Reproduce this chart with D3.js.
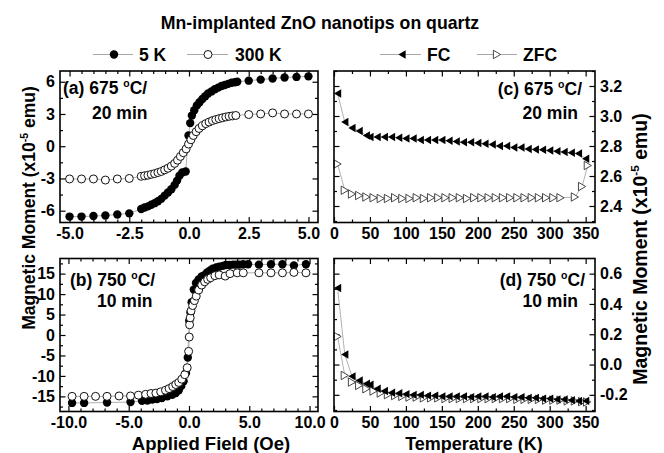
<!DOCTYPE html>
<html>
<head>
<meta charset="utf-8">
<script src="https://cdn.jsdelivr.net/npm/d3@7"></script>
<style>
  body { margin: 0; background: #fff; }
  svg { display: block; }
</style>
</head>
<body>
<script>
// (a) 675 C / 20 min : M(H) loops
var hA5 = [-5, -4.5, -4, -3.5, -3, -2.5,
  -2.0, -1.86, -1.72, -1.58, -1.44, -1.3, -1.16, -1.02, -0.88, -0.74, -0.6, -0.5, -0.4, -0.28, -0.14,
  -0.02, 0.05, 0.12, 0.22, 0.33, 0.44, 0.56, 0.68, 0.8, 0.94, 1.08, 1.22, 1.36, 1.5, 1.64, 1.78, 1.92, 2.02,
  2.5, 3.0, 3.5, 4.0, 4.5, 5.0];
var mA5 = [-6.55, -6.55, -6.5, -6.45, -6.35, -6.25,
  -5.85, -5.7, -5.6, -5.45, -5.3, -5.12, -4.9, -4.6, -4.3, -4.0, -3.6, -3.2, -2.75, -2.45, -2.35,
  1.0, 2.15, 2.85, 3.35, 3.8, 4.1, 4.4, 4.65, 4.9, 5.1, 5.3, 5.45, 5.6, 5.7, 5.8, 5.9, 5.95, 6.0,
  6.1, 6.2, 6.3, 6.4, 6.45, 6.5];
var hA300 = [-5, -4.5, -4, -3.5, -3, -2.5,
  -2.0, -1.86, -1.72, -1.58, -1.44, -1.3, -1.16, -1.02, -0.88, -0.74, -0.6, -0.48, -0.36, -0.24, -0.12,
  -0.02, 0.08, 0.18, 0.3, 0.42, 0.56, 0.7, 0.84, 0.98, 1.12, 1.26, 1.4, 1.54, 1.68, 1.82, 1.96,
  2.5, 3.0, 3.5, 4.0, 4.5, 5.0];
var mA300 = [-3.05, -3.05, -3.05, -3.15, -3.05, -3.0,
  -2.8, -2.75, -2.7, -2.62, -2.55, -2.45, -2.35, -2.2, -2.05, -1.85, -1.6, -1.3, -0.95, -0.6, -0.25,
  0.2, 0.6, 1.0, 1.35, 1.65, 1.9, 2.1, 2.25, 2.38, 2.48, 2.57, 2.65, 2.72, 2.78, 2.82, 2.86,
  2.95, 3.0, 3.1, 3.0, 3.0, 3.0];

// (b) 750 C / 10 min
var hB5 = [-9.7, -8.7, -6.8, -4.85,
  -3.9, -3.45, -3.05, -2.65, -2.25, -1.8, -1.4, -1.1, -0.85, -0.65, -0.45, -0.25, -0.1,
  0.02, 0.12, 0.22, 0.4, 0.58, 0.8, 1.05, 1.27, 1.5, 1.75, 1.96, 2.25, 2.5, 2.8, 3.05, 3.35, 3.65, 3.9, 4.2, 4.5, 4.9,
  5.8, 6.8, 7.75, 8.7, 9.7];
var mB5 = [-16.6, -16.6, -16.5, -16.4,
  -16.1, -16.0, -15.8, -15.65, -15.4, -15.0, -14.6, -14.2, -13.5, -12.5, -11.3, -9.3, -5.5,
  3.5, 5.5, 8.0, 11.1, 12.7, 13.6, 14.3, 14.6, 15.3, 15.8, 16.2, 16.5, 16.7, 16.9, 17.1, 17.1, 17.2, 17.2, 17.2, 17.3, 17.3,
  17.2, 17.3, 17.3, 17.0, 17.3];
var hB300 = [-9.7, -8.7, -7.75, -6.8, -5.8, -4.85,
  -4.2, -3.6, -3.15, -2.75, -2.35, -1.95, -1.65, -1.35, -1.1, -0.85, -0.6, -0.35, -0.15, -0.03,
  0.02, 0.05, 0.1, 0.17, 0.3, 0.45, 0.6, 0.8, 1.05, 1.3, 1.55, 1.8, 2.15, 2.5, 3.0, 3.4, 4.0, 4.5,
  5.8, 6.8, 7.75, 8.7, 9.7];
var mB300 = [-15.0, -15.0, -15.0, -15.0, -14.9, -14.9,
  -14.7, -14.5, -14.3, -14.2, -13.9, -13.5, -13.1, -12.6, -12.1, -11.6, -10.8, -9.7, -8.0, -4.0,
  -0.5, 2.5, 4.2, 5.9, 7.2, 8.4, 9.5, 11.0, 12.2, 13.0, 13.6, 14.0, 14.5, 14.7, 14.4, 15.0, 15.2, 15.2,
  15.2, 15.2, 15.2, 15.3, 15.2];

// (c),(d) FC / ZFC vs temperature
var tFC = [5, 15, 25, 35, 45, 50, 60, 70, 80, 90, 100, 110, 120, 130, 140, 150, 160, 170, 180, 190,
  200, 210, 220, 230, 240, 250, 260, 270, 280, 290, 300, 310, 320, 330, 340, 350];
var mFCc = [3.15, 2.96, 2.92, 2.90, 2.87, 2.86, 2.86, 2.86, 2.86, 2.855, 2.85, 2.85, 2.84, 2.84, 2.84, 2.84, 2.835, 2.83, 2.825, 2.825,
  2.82, 2.815, 2.81, 2.80, 2.80, 2.79, 2.79, 2.78, 2.777, 2.775, 2.77, 2.765, 2.76, 2.755, 2.75, 2.715];
var mFCd = [0.505, 0.066, -0.078, -0.105, -0.127, -0.133, -0.16, -0.175, -0.186, -0.19, -0.195, -0.2, -0.2, -0.205, -0.205, -0.21, -0.21, -0.21, -0.21, -0.215,
  -0.21, -0.21, -0.215, -0.21, -0.21, -0.215, -0.215, -0.22, -0.22, -0.225, -0.225, -0.23, -0.23, -0.235, -0.24, -0.24];
var tZFCc = [5, 15, 25, 35, 45,
  55, 65, 75, 85, 95, 105, 115, 125, 135, 145, 155, 165, 175, 185, 195, 205, 215, 225, 235, 245, 255, 265, 275, 285, 295, 305, 315,
  335, 345, 353];
var mZFCc = [2.68, 2.505, 2.48, 2.47, 2.46,
  2.455, 2.45, 2.45, 2.455, 2.45, 2.45, 2.455, 2.45, 2.455, 2.455, 2.455, 2.455, 2.455, 2.45, 2.455, 2.455, 2.455, 2.455, 2.455, 2.455, 2.455, 2.455, 2.455, 2.455, 2.455, 2.455, 2.455,
  2.46, 2.53, 2.67];
var tZFCd = [5, 15, 25, 35, 45, 55, 65, 75, 85, 95, 105, 115, 125, 135, 145, 155, 165, 175, 185, 195,
  205, 215, 225, 235, 245, 255, 265, 275, 285, 295, 305, 315, 325, 335, 345, 352];
var mZFCd = [0.185, -0.072, -0.116, -0.138, -0.16, -0.175, -0.188, -0.199, -0.205, -0.21, -0.215, -0.215, -0.22, -0.22, -0.22, -0.225, -0.225, -0.225, -0.225, -0.225,
  -0.225, -0.225, -0.225, -0.225, -0.225, -0.23, -0.23, -0.23, -0.23, -0.235, -0.235, -0.235, -0.24, -0.24, -0.245, -0.247];

var font = "'Liberation Sans', Arial, Helvetica, sans-serif";

var svg = d3.select("body").append("svg")
    .attr("width", 664)
    .attr("height", 453)
    .style("font-family", font)
    .style("font-weight", "bold");

function zip(xs, ys) {
    return xs.map(function(x, i) { return [x, ys[i]]; });
}

// text with superscript parts: parts = [["text"], ["sup", true], ...]
function richText(g, x, y, parts, size, anchor) {
    var t = g.append("text")
        .attr("x", x).attr("y", y)
        .attr("text-anchor", anchor || "start")
        .style("font-size", size + "px");
    var back = 0;
    parts.forEach(function(p) {
        var ts = t.append("tspan").text(p[0]);
        if (p[1]) {
            ts.attr("dy", -size * 0.42).style("font-size", (size * 0.6) + "px");
            back = size * 0.42;
        } else if (back) {
            ts.attr("dy", back);
            back = 0;
        }
    });
    return t;
}

var triLeft = "M-3.6,0L3.6,-4.2L3.6,4.2Z";
var triRight = "M3.6,0L-3.6,-4.2L-3.6,4.2Z";

function drawMarkers(g, pts, kind) {
    var sel = g.append("g").selectAll("path").data(pts).enter();
    if (kind == "filledCircle") {
        sel.append("circle").attr("cx", d => d[0]).attr("cy", d => d[1]).attr("r", 4.2)
            .attr("fill", "#000");
    } else if (kind == "openCircle") {
        sel.append("circle").attr("cx", d => d[0]).attr("cy", d => d[1]).attr("r", 4)
            .attr("fill", "#fff").attr("stroke", "#111").attr("stroke-width", 1);
    } else if (kind == "fc") {
        sel.append("path").attr("d", triLeft)
            .attr("transform", d => "translate(" + d[0] + "," + d[1] + ")")
            .attr("fill", "#000");
    } else {
        sel.append("path").attr("d", triRight)
            .attr("transform", d => "translate(" + d[0] + "," + d[1] + ")")
            .attr("fill", "#fff").attr("stroke", "#333").attr("stroke-width", 0.9);
    }
}

function panel(p) {
    var x = d3.scaleLinear().domain(p.xd).range([p.x0, p.x1]);
    var y = d3.scaleLinear().domain(p.yd).range([p.y1, p.y0]);
    var g = svg.append("g");

    function styleAxis(a) {
        a.select(".domain").remove();
        a.selectAll("line").attr("stroke", "#000").attr("stroke-width", 1.2);
        a.selectAll("text").style("font-size", "16px").style("font-family", font)
            .style("font-weight", "bold").attr("fill", "#000");
    }

    // bottom
    g.append("g").attr("transform", "translate(0," + p.y1 + ")")
        .call(d3.axisBottom(x).tickValues(p.xMinor).tickSize(-3).tickFormat(""))
        .call(styleAxis);
    g.append("g").attr("transform", "translate(0," + p.y1 + ")")
        .call(d3.axisBottom(x).tickValues(p.xMajor).tickSize(-5.5).tickPadding(5).tickFormat(p.xFmt))
        .call(styleAxis);
    // top
    g.append("g").attr("transform", "translate(0," + p.y0 + ")")
        .call(d3.axisTop(x).tickValues(p.xMinor).tickSize(-3).tickFormat(""))
        .call(styleAxis);
    g.append("g").attr("transform", "translate(0," + p.y0 + ")")
        .call(d3.axisTop(x).tickValues(p.xMajor).tickSize(-5.5).tickFormat(""))
        .call(styleAxis);
    // left and right
    var labelLeft = p.ySide == "left";
    g.append("g").attr("transform", "translate(" + p.x0 + ",0)")
        .call(d3.axisLeft(y).tickValues(p.yMinor).tickSize(-3).tickFormat(""))
        .call(styleAxis);
    g.append("g").attr("transform", "translate(" + p.x0 + ",0)")
        .call(d3.axisLeft(y).tickValues(p.yMajor).tickSize(-5.5).tickPadding(5)
            .tickFormat(labelLeft ? p.yFmt : ""))
        .call(styleAxis);
    g.append("g").attr("transform", "translate(" + p.x1 + ",0)")
        .call(d3.axisRight(y).tickValues(p.yMinor).tickSize(-3).tickFormat(""))
        .call(styleAxis);
    g.append("g").attr("transform", "translate(" + p.x1 + ",0)")
        .call(d3.axisRight(y).tickValues(p.yMajor).tickSize(-5.5).tickPadding(5)
            .tickFormat(labelLeft ? "" : p.yFmt))
        .call(styleAxis);

    var line = d3.line().x(d => d[0]).y(d => d[1]);
    var series = p.series.map(function(s) {
        return { kind: s.kind, pts: zip(s.xs, s.ys).map(d => [x(d[0]), y(d[1])]) };
    });
    series.forEach(function(s) {
        g.append("path").attr("d", line(s.pts)).attr("fill", "none")
            .attr("stroke", "#a8a8a8").attr("stroke-width", 0.9);
    });
    series.forEach(function(s) { drawMarkers(g, s.pts, s.kind); });

    g.append("rect").attr("x", p.x0).attr("y", p.y0)
        .attr("width", p.x1 - p.x0).attr("height", p.y1 - p.y0)
        .attr("fill", "none").attr("stroke", "#000").attr("stroke-width", 1.6);
    return g;
}

var f1 = d => d.toFixed(1);
var f0 = d => String(d);

panel({
    x0: 60, x1: 318, y0: 71, y1: 222.5,
    xd: [-5.4, 5.4], yd: [-7.1, 7.0],
    xMajor: [-5, -2.5, 0, 2.5, 5],
    xMinor: [-4.5, -4, -3.5, -3, -2, -1.5, -1, -0.5, 0.5, 1, 1.5, 2, 3, 3.5, 4, 4.5],
    yMajor: [-6, -3, 0, 3, 6], yMinor: [-4.5, -1.5, 1.5, 4.5],
    xFmt: f1, yFmt: f0, ySide: "left",
    series: [{ kind: "filledCircle", xs: hA5, ys: mA5 }, { kind: "openCircle", xs: hA300, ys: mA300 }]
});

panel({
    x0: 60, x1: 318, y0: 258.5, y1: 411.5,
    xd: [-10.7, 10.7], yd: [-18.7, 18.7],
    xMajor: [-10, -5, 0, 5, 10],
    xMinor: [-9, -8, -7, -6, -4, -3, -2, -1, 1, 2, 3, 4, 6, 7, 8, 9],
    yMajor: [-15, -10, -5, 0, 5, 10, 15], yMinor: [-17.5, -12.5, -7.5, -2.5, 2.5, 7.5, 12.5, 17.5],
    xFmt: f1, yFmt: f0, ySide: "left",
    series: [{ kind: "filledCircle", xs: hB5, ys: mB5 }, { kind: "openCircle", xs: hB300, ys: mB300 }]
});

var tMajor = [0, 50, 100, 150, 200, 250, 300, 350];
var tMinor = [25, 75, 125, 175, 225, 275, 325];

panel({
    x0: 334, x1: 595, y0: 71, y1: 222.5,
    xd: [0, 363], yd: [2.29, 3.30],
    xMajor: tMajor, xMinor: tMinor,
    yMajor: [2.4, 2.6, 2.8, 3.0, 3.2], yMinor: [2.3, 2.5, 2.7, 2.9, 3.1, 3.3],
    xFmt: f0, yFmt: f1, ySide: "right",
    series: [{ kind: "zfc", xs: tZFCc, ys: mZFCc }, { kind: "fc", xs: tFC, ys: mFCc }]
});

panel({
    x0: 334, x1: 595, y0: 258.5, y1: 411.5,
    xd: [0, 363], yd: [-0.31, 0.70],
    xMajor: tMajor, xMinor: tMinor,
    yMajor: [-0.2, 0, 0.2, 0.4, 0.6], yMinor: [-0.3, -0.1, 0.1, 0.3, 0.5],
    xFmt: f0, yFmt: f1, ySide: "right",
    series: [{ kind: "zfc", xs: tZFCd, ys: mZFCd }, { kind: "fc", xs: tFC, ys: mFCd }]
});

// panel notes
richText(svg, 63, 94, [["(a) 675 "], ["o", true], ["C/"]], 17.5, "start");
richText(svg, 92, 119, [["20 min"]], 17.5, "start");
richText(svg, 70, 286, [["(b) 750 "], ["o", true], ["C/"]], 17.5, "start");
richText(svg, 97, 307, [["10 min"]], 17.5, "start");
richText(svg, 582, 95, [["(c) 675 "], ["o", true], ["C/"]], 17.5, "end");
richText(svg, 578, 119, [["20 min"]], 17.5, "end");
richText(svg, 585, 286, [["(d) 750 "], ["o", true], ["C/"]], 17.5, "end");
richText(svg, 578, 307, [["10 min"]], 17.5, "end");

// titles
richText(svg, 320, 29, [["Mn-implanted ZnO nanotips on quartz"]], 17.7, "middle");
richText(svg, 211, 450, [["Applied Field (Oe)"]], 18.5, "middle");
richText(svg, 474, 450, [["Temperature (K)"]], 18, "middle");

var yl = svg.append("g").attr("transform", "translate(35,208) rotate(-90)");
richText(yl, 0, 0, [["Magnetic Moment (x10"], ["-5", true], [" emu)"]], 17.5, "middle");
var yr = svg.append("g").attr("transform", "translate(647,249) rotate(-90)");
richText(yr, 0, 0, [["Magnetic Moment (x10"], ["-5", true], [" emu)"]], 19.5, "middle");

// legends
var ly = 54.5;
var legend = [
    { x1: 93, x2: 133, mx: 114, kind: "filledCircle", label: "5 K", tx: 139 },
    { x1: 187, x2: 228, mx: 208, kind: "openCircle", label: "300 K", tx: 235 },
    { x1: 380, x2: 421, mx: 402, kind: "fc", label: "FC", tx: 427 },
    { x1: 477, x2: 517, mx: 497, kind: "zfc", label: "ZFC", tx: 523 }
];
legend.forEach(function(l) {
    svg.append("line").attr("x1", l.x1).attr("x2", l.x2).attr("y1", ly).attr("y2", ly)
        .attr("stroke", "#a8a8a8").attr("stroke-width", 1);
    drawMarkers(svg, [[l.mx, ly]], l.kind);
    richText(svg, l.tx, ly + 6.3, [[l.label]], 17.5, "start");
});
</script>
</body>
</html>
